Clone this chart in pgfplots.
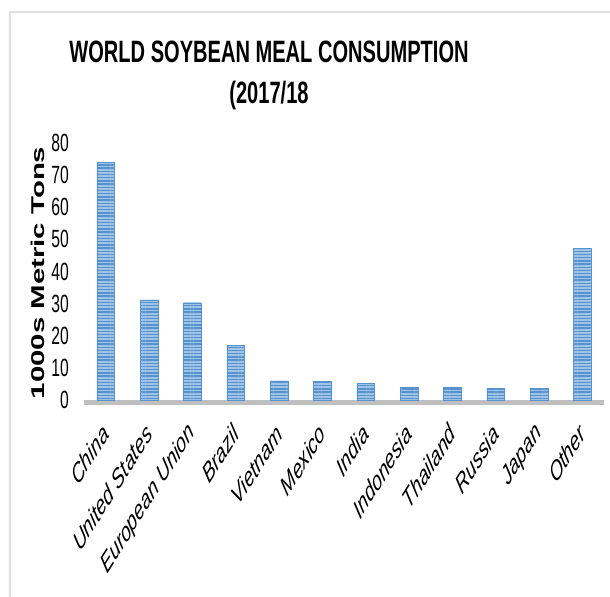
\documentclass[border=0pt]{standalone}
\usepackage{fontspec}
\setmainfont{Liberation Sans}
\usepackage{pgfplots}
\pgfplotsset{compat=1.18}
\usetikzlibrary{patterns.meta}
\definecolor{barlight}{RGB}{160,196,230}
\definecolor{barmid}{RGB}{86,146,207}
\definecolor{framegray}{RGB}{222,222,222}
\definecolor{basegray}{RGB}{191,191,191}
\begin{document}
\begin{tikzpicture}[x=1bp,y=1bp]
\useasboundingbox (0,0) rectangle (610,597);
% chart frame
\draw[framegray, line width=1.5bp] (10,0) -- (10,585) -- (610,585);
% title
\node[font=\bfseries\fontsize{31}{36}\selectfont, xscale=0.65, anchor=base] at (269,534) {WORLD SOYBEAN MEAL CONSUMPTION};
\node[font=\bfseries\fontsize{31}{36}\selectfont, xscale=0.65, anchor=base] at (269,493) {(2017/18};
% y axis title
\node[font=\bfseries\fontsize{29.5}{34}\selectfont, xscale=0.63, rotate=90] at (38,324) {1000s Metric Tons};
\begin{axis}[
  at={(84bp,197bp)}, anchor=south west,
  scale only axis, width=520bp, height=257bp,
  xmin=-0.5, xmax=11.5, ymin=0, ymax=80,
  clip=false,
  axis line style={draw=none},
  major tick length=0pt,
  xtick={0,...,11},
  xticklabels={China,United States,European Union,Brazil,Vietnam,Mexico,India,Indonesia,Thailand,Russia,Japan,Other},
  ytick={0,10,...,80},
  /pgf/number format/assume math mode=true,
  yticklabel style={font=\fontsize{25}{30}\selectfont, inner sep=0pt, xshift=-15bp, xscale=0.63, anchor=east},
  xticklabel style={font=\itshape\fontsize{27.5}{32}\selectfont, inner sep=0pt, yshift=-29bp, xscale=0.63, rotate=45, anchor=east},
]
% baseline under the bars
\draw[basegray, line width=5bp] (axis cs:-0.5,-0.78) -- (axis cs:11.5,-0.78);
\addplot[ybar, bar width=17.5bp, draw=barmid, line width=0.3bp, fill=barlight,
  postaction={pattern={Lines[angle=0,distance=3.2bp,line width=1.4bp]}, pattern color=barmid}]
  coordinates {(0,74.0) (1,31.2) (2,30.3) (3,17.1) (4,6.0) (5,5.9) (6,5.2) (7,4.1) (8,4.1) (9,3.6) (10,3.6) (11,47.3)};
\end{axis}
\end{tikzpicture}
\end{document}
